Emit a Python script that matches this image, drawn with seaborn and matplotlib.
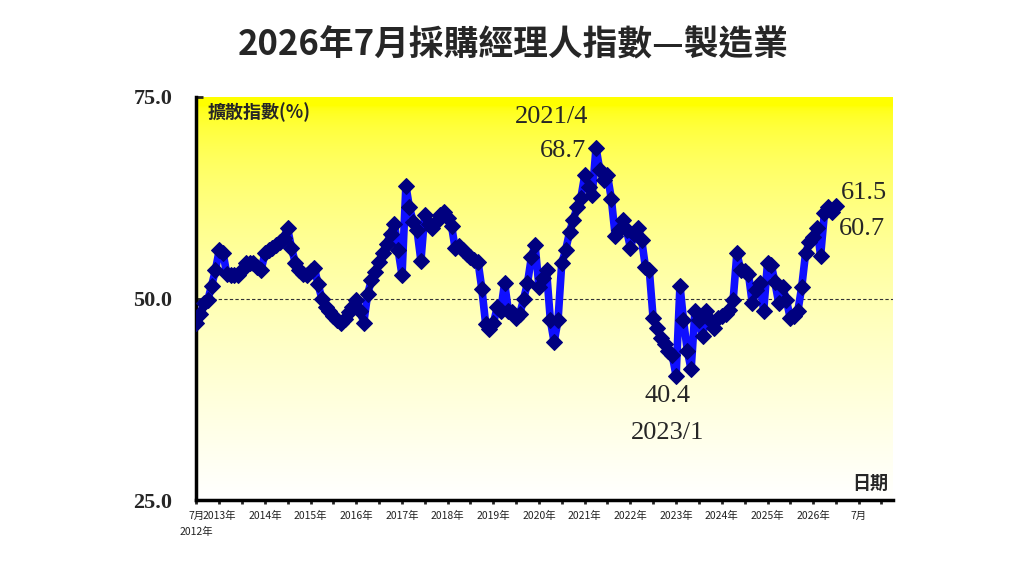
import numpy as np
import pandas as pd
import matplotlib
matplotlib.use("Agg")
import matplotlib.pyplot as plt
import matplotlib.transforms as mtransforms
import seaborn as sns

# 製造業 PMI 擴散指數, 2012/7 ~ 2026/7
pmi_2012 = [47.0, 48.1, 49.4, 49.8, 51.6, 53.5]  # Jul-Dec
pmi_2013 = [56.0, 55.6, 53.1, 52.9, 52.9, 52.9, 53.5, 54.4, 54.4, 54.4, 53.9, 53.5]
pmi_2014 = [55.6, 56.0, 56.3, 56.6, 57.0, 57.5, 58.7, 56.3, 54.4, 53.5, 53.0, 52.9]
pmi_2015 = [53.4, 53.8, 51.8, 50.0, 49.0, 48.5, 47.8, 47.3, 46.9, 47.5, 48.3, 49.0]
pmi_2016 = [49.8, 48.5, 47.0, 50.5, 52.3, 53.3, 54.5, 55.6, 56.8, 58.0, 59.3, 56.0]
pmi_2017 = [52.9, 64.0, 61.3, 59.5, 58.5, 54.7, 60.3, 59.3, 58.7, 59.5, 60.3, 60.7]
pmi_2018 = [60.0, 59.0, 56.3, 56.5, 56.0, 55.5, 55.2, 54.8, 54.5, 51.2, 46.8, 46.2]
pmi_2019 = [46.9, 48.9, 48.5, 51.9, 48.5, 48.3, 47.6, 48.1, 50.0, 51.9, 55.1, 56.6]
pmi_2020 = [51.4, 52.5, 53.5, 47.3, 44.6, 47.3, 54.4, 56.0, 58.2, 59.8, 61.3, 62.5]
pmi_2021 = [65.3, 63.8, 62.8, 68.7, 65.9, 64.7, 65.3, 62.4, 57.8, 58.5, 59.7, 58.5]
pmi_2022 = [56.3, 58.0, 58.8, 57.2, 53.9, 53.5, 47.6, 46.4, 45.1, 44.4, 43.5, 43.0]
pmi_2023 = [40.4, 51.6, 47.3, 43.5, 41.2, 48.5, 47.3, 45.3, 48.5, 47.3, 46.4, 47.6]
pmi_2024 = [47.8, 48.1, 48.6, 49.8, 55.6, 53.5, 53.4, 53.1, 49.4, 51.0, 51.9, 48.5]
pmi_2025 = [54.4, 54.1, 52.0, 49.4, 51.4, 49.8, 47.6, 47.8, 48.5, 51.4, 55.6, 57.0]
pmi_2026 = [57.6, 58.8, 55.3, 60.6, 61.3, 60.7, 61.5]  # Jan-Jul

yticks = [25.0, 50.0, 75.0]

values = (pmi_2012 + pmi_2013 + pmi_2014 + pmi_2015 + pmi_2016 + pmi_2017 + pmi_2018
          + pmi_2019 + pmi_2020 + pmi_2021 + pmi_2022 + pmi_2023 + pmi_2024 + pmi_2025 + pmi_2026)
df = pd.DataFrame({"date": pd.date_range("2012-07-01", periods=len(values), freq="MS"),
                   "pmi": values})

sns.set_style("ticks")
plt.rcParams['font.family'] = ['Noto Sans CJK TC', 'DejaVu Sans']
serif = ['Liberation Serif', 'DejaVu Serif']

fig = plt.figure(figsize=(10.24, 5.76), dpi=100)
ax = fig.add_axes([196/1024, 1-500/576, 697/1024, 403/576])

sns.lineplot(data=df, x="date", y="pmi", ax=ax, color="#0f0fff", linewidth=5.5,
             marker="D", markersize=8.5, markerfacecolor="#00007f",
             markeredgecolor="#00007f", zorder=3)

# yellow -> white background
s = np.linspace(0, 1, 256)
b = np.clip((s - 0.02) / 0.98, 0, 1) ** 0.5
grad = np.dstack([np.ones_like(b), np.ones_like(b), b]).reshape(256, 1, 3)
ax.imshow(grad, extent=[0, 1, 0, 1], transform=ax.transAxes, aspect="auto", zorder=0)

ax.axhline(50, color="#333333", lw=0.8, ls=(0, (3, 2)), zorder=1)

ax.set_xlim(pd.Timestamp("2012-06-29"), pd.Timestamp("2027-10-01"))
ax.set_ylim(25, 75)

ticks = pd.date_range("2012-07-01", "2027-07-01", freq="6MS")
labels = []
for t in ticks:
    if t == ticks[0]:
        labels.append("7月")
    elif t.month == 1 and t.year <= 2026:
        labels.append(f"{t.year}年")
    elif t.month == 1 and t.year == 2027:
        labels.append("7月")
    else:
        labels.append("")
ax.set_xticks(ticks)
ax.set_xticklabels(labels, fontsize=7.5, color="#222222")
ax.set_yticks(yticks)
ax.set_yticklabels([f"{v:.1f}" for v in yticks], fontsize=16, fontweight="bold",
                   family=serif)
ax.tick_params(axis="x", direction="out", length=3, width=2, pad=5)
ax.tick_params(axis="y", direction="in", length=5, width=2, pad=17)
ax.set_xlabel("")
ax.set_ylabel("")

# start year under the first tick
trans = mtransforms.blended_transform_factory(ax.transData, ax.transAxes)
ax.text(ticks[0], -0.079, "2012年", transform=trans, ha="center", va="center",
        fontsize=7.5, color="#222222")

for side in ["top", "right"]:
    ax.spines[side].set_visible(False)
for side in ["left", "bottom"]:
    ax.spines[side].set_linewidth(2.5)
    ax.spines[side].set_color("black")

fig.text(513/1024, 1-45/576, "2026年7月採購經理人指數—製造業", ha="center", va="center",
         fontsize=25, fontweight="bold")
ax.text(0.017, 0.963, "擴散指數(%)", transform=ax.transAxes, ha="left", va="center",
        fontsize=13, fontweight="bold")
ax.text(0.968, 0.042, "日期", transform=ax.transAxes, ha="center", va="center",
        fontsize=13, fontweight="bold")

# annotations
peak = df.loc[df["pmi"].idxmax()]
low = df.loc[df["pmi"].idxmin()]
last = df.iloc[-1]
prev = df.iloc[-2]
ann = dict(textcoords="offset points", ha="center", va="center", fontsize=19, family=serif)
ax.annotate(f"{peak.date.year}/{peak.date.month}", (peak.date, peak.pmi), xytext=(-32, 22), **ann)
ax.annotate(f"{peak.pmi:.1f}", (peak.date, peak.pmi), xytext=(-24, -2), **ann)
ax.annotate(f"{low.pmi:.1f}", (low.date, low.pmi), xytext=(-6.5, -14.5), **ann)
ax.annotate(f"{low.date.year}/{low.date.month}", (low.date, low.pmi), xytext=(-6.5, -41), **ann)
ax.annotate(f"{last.pmi:.1f}", (last.date, last.pmi), xytext=(20, 9.5), **ann)
ax.annotate(f"{prev.pmi:.1f}", (last.date, last.pmi), xytext=(18.5, -17), **ann)

fig.savefig("out.png", dpi=100)
